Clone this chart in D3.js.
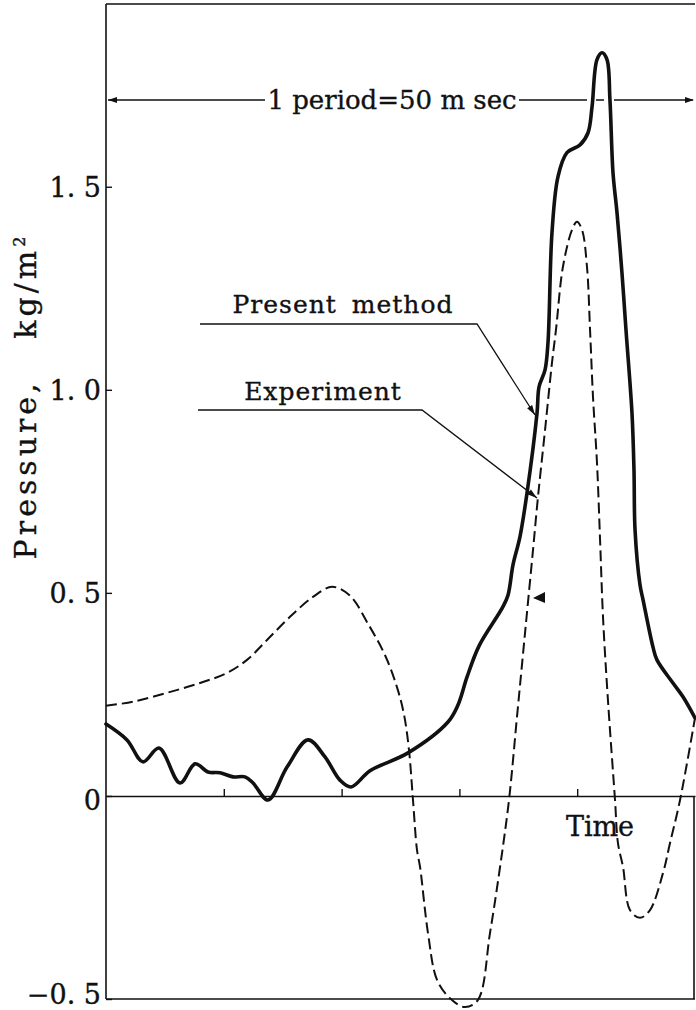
<!DOCTYPE html>
<html>
<head>
<meta charset="utf-8">
<script src="https://cdn.jsdelivr.net/npm/d3@7/dist/d3.min.js"></script>
<style>
  html, body { margin: 0; padding: 0; background: #fff; }
  svg { display: block; }
  text { font-family: "DejaVu Serif", "Liberation Serif", serif; fill: #111; stroke: #111; stroke-width: 0.35px; }
</style>
</head>
<body>
<svg id="chart" width="696" height="1010"></svg>
<script>
// Time over one period (ms) and pressure (kg/m^2) for the computed curve
const presentTime = [0, 1.78, 3.14, 4.5, 6.28, 7.56, 8.66, 9.68, 10.78, 11.8, 12.48, 13.75, 15.37, 17.15, 18.59, 19.86, 20.8, 22.41, 25.64, 29.03, 29.88, 30.65, 31.66, 33.7, 34.13, 34.55, 35.14, 35.74, 36.59, 36.76, 37.27, 37.52, 37.86, 38.37, 39.13, 40.24, 40.92, 41.26, 41.68, 42.11, 42.53, 42.78, 43.04, 43.38, 43.8, 44.14, 44.65, 44.82, 44.91, 45.33, 45.59, 46.43, 46.77, 48.13, 48.98, 50];
const presentPressure = [0.177, 0.138, 0.084, 0.118, 0.032, 0.079, 0.059, 0.057, 0.047, 0.047, 0.032, -0.01, 0.071, 0.138, 0.096, 0.039, 0.022, 0.062, 0.106, 0.182, 0.224, 0.293, 0.369, 0.466, 0.495, 0.569, 0.638, 0.746, 0.943, 1.007, 1.049, 1.116, 1.387, 1.525, 1.584, 1.603, 1.633, 1.697, 1.813, 1.83, 1.813, 1.714, 1.534, 1.436, 1.288, 1.148, 0.943, 0.803, 0.655, 0.52, 0.483, 0.367, 0.335, 0.278, 0.244, 0.192];

// Measured pressure over the same period
const experimentTime = [0, 2.29, 5.18, 7.98, 10.27, 11.97, 13.67, 15.62, 17.57, 19.19, 20.71, 22.24, 23.68, 24.7, 25.3, 25.72, 26.06, 26.4, 26.66, 27.33, 28.1, 29.2, 30.48, 31.58, 32.6, 33.45, 34.21, 34.89, 35.57, 36.25, 36.67, 37.27, 37.86, 38.2, 38.79, 39.56, 39.98, 40.41, 40.83, 41.09, 41.34, 41.68, 41.94, 42.19, 42.61, 43.21, 43.46, 43.89, 44.48, 45.33, 46.18, 47.28, 47.88, 48.73, 50];
const experimentPressure = [0.222, 0.232, 0.254, 0.278, 0.303, 0.335, 0.384, 0.441, 0.49, 0.515, 0.493, 0.424, 0.347, 0.268, 0.2, 0.113, -0.01, -0.133, -0.175, -0.337, -0.453, -0.498, -0.52, -0.502, -0.337, -0.175, -0.01, 0.195, 0.401, 0.606, 0.736, 0.901, 1.067, 1.148, 1.303, 1.394, 1.414, 1.394, 1.303, 1.148, 0.983, 0.82, 0.631, 0.441, 0.236, -0.01, -0.116, -0.175, -0.281, -0.3, -0.281, -0.19, -0.116, -0.01, 0.192];

// Axis ticks
const yTickValues = [-0.5, 0, 0.5, 1.0, 1.5];
const yTickLabels = ["\u22120. 5", "0", "0. 5", "1. 0", "1. 5"];
const xTickValues = [10, 20, 30, 40];

const periodLabel = "1 period=50 m sec";
const seriesLabels = ["Present method", "Experiment"];

const svg = d3.select("#chart");
const plotLeft = 106, plotRight = 695, plotTop = 4, plotBottom = 999;

const x = d3.scaleLinear().domain([0, 50]).range([plotLeft, plotRight]);
const y = d3.scaleLinear().domain([-0.5, 1.95]).range([plotBottom, plotTop]);

const ink = "#111";

// Frame: top edge, bottom edge, right edge below the time axis
svg.append("line").attr("x1", x(0)).attr("x2", x(50)).attr("y1", y(1.95)).attr("y2", y(1.95))
  .attr("stroke", ink).attr("stroke-width", 1.6);
svg.append("line").attr("x1", x(0)).attr("x2", x(50)).attr("y1", y(-0.5)).attr("y2", y(-0.5))
  .attr("stroke", ink).attr("stroke-width", 1.6);
svg.append("line").attr("x1", x(50) - 1).attr("x2", x(50) - 1).attr("y1", y(0)).attr("y2", y(-0.5))
  .attr("stroke", ink).attr("stroke-width", 1.6);

// Pressure axis with inward ticks
const yAxis = d3.axisLeft(y)
  .tickValues(yTickValues)
  .tickSizeInner(-6)
  .tickSizeOuter(0)
  .tickPadding(5)
  .tickFormat((d, i) => yTickLabels[i]);
const yg = svg.append("g").attr("transform", `translate(${plotLeft},0)`).call(yAxis);
yg.select(".domain").attr("stroke", ink).attr("stroke-width", 1.6)
  .attr("d", `M0,${y(1.95)}V${y(-0.5)}`);
yg.selectAll(".tick line").attr("stroke", ink).attr("stroke-width", 1.4);
yg.selectAll(".tick text")
  .attr("font-family", "DejaVu Serif")
  .attr("font-size", 27)
  .attr("fill", ink)
  .attr("dy", d => d === 0 ? "0.5em" : (d === -0.5 ? "0.15em" : "0.35em"));

// Time axis along zero pressure, ticks pointing up
const xAxis = d3.axisBottom(x)
  .tickValues(xTickValues)
  .tickSizeInner(-7)
  .tickSizeOuter(0)
  .tickFormat("");
const xg = svg.append("g").attr("transform", `translate(0,${y(0)})`).call(xAxis);
xg.select(".domain").attr("stroke", ink).attr("stroke-width", 1.6);
xg.selectAll(".tick line").attr("stroke", ink).attr("stroke-width", 1.4);

svg.append("text")
  .attr("x", 600).attr("y", 836)
  .attr("text-anchor", "middle")
  .attr("font-size", 27)
  .text("Time");

// Pressure axis title
svg.append("text")
  .attr("transform", "translate(36,396) rotate(-90)")
  .attr("text-anchor", "middle")
  .attr("font-size", 30)
  .attr("letter-spacing", 4)
  .html('Pressure,&#160;&#160;&#160;kg/m<tspan dy="-11" font-size="16">2</tspan>');

// Curves
const line = d3.line()
  .x(d => x(d[0]))
  .y(d => y(d[1]))
  .curve(d3.curveCatmullRom.alpha(0.5));

const experiment = experimentTime.map((t, i) => [t, experimentPressure[i]]);
const present = presentTime.map((t, i) => [t, presentPressure[i]]);

svg.append("path")
  .attr("d", line(experiment))
  .attr("fill", "none")
  .attr("stroke", ink)
  .attr("stroke-width", 2)
  .attr("stroke-dasharray", "11,5");

svg.append("path")
  .attr("d", line(present))
  .attr("fill", "none")
  .attr("stroke", ink)
  .attr("stroke-width", 3.6)
  .attr("stroke-linejoin", "round")
  .attr("stroke-linecap", "round");

// Period dimension line
const periodY = 100;
function arrowHead(tipX, tipY, dir) {
  const len = 9, half = 3;
  svg.append("path")
    .attr("d", `M${tipX},${tipY}L${tipX - dir * len},${tipY - half}L${tipX - dir * len},${tipY + half}Z`)
    .attr("fill", ink);
}
const periodSegments = [[x(0) + 2, 265], [519, 587], [596, 604], [614, x(50) - 2]];
periodSegments.forEach(s => {
  svg.append("line").attr("x1", s[0]).attr("x2", s[1]).attr("y1", periodY).attr("y2", periodY)
    .attr("stroke", ink).attr("stroke-width", 1.5);
});
arrowHead(x(0) + 2, periodY, -1);
arrowHead(x(50) - 1, periodY, 1);
svg.append("text")
  .attr("x", 392).attr("y", 109)
  .attr("text-anchor", "middle")
  .attr("font-size", 26)
  .text(periodLabel);

// Series labels with leader lines
const leaders = [
  { label: seriesLabels[0], tx: 343, ty: 313, path: [[200, 324], [477, 324], [535, 415]] },
  { label: seriesLabels[1], tx: 323, ty: 400, path: [[198, 410], [422, 410], [537, 498]] }
];
leaders.forEach(l => {
  svg.append("text")
    .attr("x", l.tx).attr("y", l.ty)
    .attr("text-anchor", "middle")
    .attr("font-size", 25)
    .attr("letter-spacing", 1)
    .attr("word-spacing", 6)
    .text(l.label);
  svg.append("path")
    .attr("d", d3.line()(l.path))
    .attr("fill", "none")
    .attr("stroke", ink)
    .attr("stroke-width", 1.3);
  const [a, b] = [l.path[1], l.path[2]];
  const ang = Math.atan2(b[1] - a[1], b[0] - a[0]);
  const len = 10, half = 3;
  const bx = b[0] - len * Math.cos(ang), by = b[1] - len * Math.sin(ang);
  const px = -Math.sin(ang) * half, py = Math.cos(ang) * half;
  svg.append("path")
    .attr("d", `M${b[0]},${b[1]}L${bx + px},${by + py}L${bx - px},${by - py}Z`)
    .attr("fill", ink);
});

// Small ink mark beside the rising experimental branch
svg.append("path")
  .attr("d", "M533,598L545,592L545,603Z")
  .attr("fill", ink);
</script>
</body>
</html>
